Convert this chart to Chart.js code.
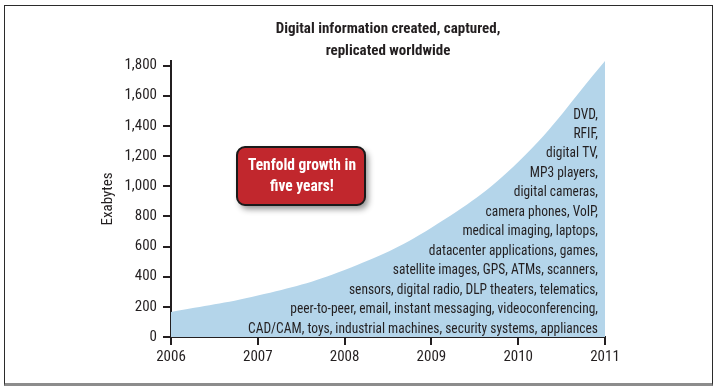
<!DOCTYPE html>
<html>
<head>
<meta charset="utf-8">
<script src="https://cdn.jsdelivr.net/npm/chart.js@4.4.0/dist/chart.umd.min.js"></script>
<style>
  body { margin: 0; background: #fff; }
  #frame { position: absolute; left: 4px; top: 5px; width: 707px; height: 377px;
           border: 1.5px solid #2b2b2b; border-bottom: 3px solid #8c8c8c; }
  #mycanvas { position: absolute; left: 0; top: 0; }
</style>
</head>
<body>
<div id="frame"></div>
<canvas id="mycanvas" width="718" height="391"></canvas>
<script>
var years = ['2006', '2007', '2008', '2009', '2010', '2011'];
var exabytes = [166, 275, 445, 725, 1160, 1830];
var yTicks = [0, 200, 400, 600, 800, 1000, 1200, 1400, 1600, 1800];
var titleLines = ['Digital information created, captured,', 'replicated worldwide'];
var calloutLines = ['Tenfold growth in', 'five years!'];
var sources = [
  'DVD,',
  'RFIF,',
  'digital TV,',
  'MP3 players,',
  'digital cameras,',
  'camera phones, VoIP,',
  'medical imaging, laptops,',
  'datacenter applications, games,',
  'satellite images, GPS, ATMs, scanners,',
  'sensors, digital radio, DLP theaters, telematics,',
  'peer-to-peer, email, instant messaging, videoconferencing,',
  'CAD/CAM, toys, industrial machines, security systems, appliances'
];

var FONT = "'Liberation Sans Narrow', 'Noto Sans ExtraCondensed', 'Noto Sans Condensed', 'Roboto Condensed', 'DejaVu Sans Condensed', sans-serif";
var INK = '#231f20';

// draws lines squeezed horizontally so the widest one is `width` px
function squeezed(ctx, lines, width, x, y0, step, align) {
  var widest = 0;
  lines.forEach(function(t) { widest = Math.max(widest, ctx.measureText(t).width); });
  var sx = Math.min(1, width / widest);
  ctx.save();
  ctx.translate(x, 0);
  ctx.scale(sx, 1);
  ctx.textAlign = align;
  for (var i = 0; i < lines.length; i++) {
    ctx.fillText(lines[i], 0, y0 + i * step);
  }
  ctx.restore();
}

// title, red callout and the list of sources drawn on top of the area
var notes = {
  id: 'notes',
  afterDatasetsDraw: function(chart) {
    var ctx = chart.ctx;
    var a = chart.chartArea;
    ctx.save();
    ctx.textBaseline = 'middle';

    ctx.fillStyle = INK;
    ctx.font = 'bold 15px ' + FONT;
    squeezed(ctx, titleLines, 235, (a.left + a.right) / 2, a.top - 32, 22, 'center');

    // callout box
    var bx = a.left + 66, by = a.top + 86, bw = 128, bh = 58;
    ctx.save();
    ctx.shadowColor = 'rgba(0,0,0,0.45)';
    ctx.shadowBlur = 6;
    ctx.shadowOffsetX = 3;
    ctx.shadowOffsetY = 4;
    ctx.beginPath();
    ctx.roundRect(bx, by, bw, bh, 8);
    ctx.fillStyle = '#c1272d';
    ctx.fill();
    ctx.restore();
    ctx.lineWidth = 2;
    ctx.strokeStyle = '#1a1a1a';
    ctx.beginPath();
    ctx.roundRect(bx, by, bw, bh, 8);
    ctx.stroke();
    ctx.fillStyle = '#fff';
    ctx.font = 'bold 16px ' + FONT;
    squeezed(ctx, calloutLines, 108, bx + bw / 2 + 1, by + 19, 21, 'center');

    // sources list, right aligned
    ctx.fillStyle = INK;
    ctx.font = '14px ' + FONT;
    var step = 19.45;
    squeezed(ctx, sources, 350, a.right - 7, a.bottom - 8 - (sources.length - 1) * step, step, 'right');
    ctx.restore();
  }
};

var chartdata = {
  labels: years,
  datasets: [
    {
      label: 'Exabytes',
      data: exabytes,
      backgroundColor: '#b4d5ea',
      borderWidth: 0,
      pointRadius: 0,
      fill: 'origin',
      tension: 0.4
    }
  ]
};

var ctx = document.getElementById('mycanvas');

var areaChart = new Chart(ctx, {
  type: 'line',
  data: chartdata,
  plugins: [notes],
  options: {
    responsive: false,
    animation: false,
    layout: { padding: { top: 61, right: 113, left: 0, bottom: 0 } },
    plugins: {
      legend: { display: false },
      title: { display: false },
      tooltip: { enabled: false }
    },
    scales: {
      x: {
        offset: false,
        grid: { display: true, drawOnChartArea: false, tickLength: 8, color: INK, lineWidth: 2 },
        border: { color: INK, width: 2 },
        ticks: { color: INK, padding: 3, maxRotation: 0, font: { family: FONT, size: 15 } },
        afterFit: function(scale) { scale.height = 54; }
      },
      y: {
        min: 0,
        max: 1830,
        afterBuildTicks: function(scale) {
          scale.ticks = yTicks.map(function(v) { return { value: v }; });
        },
        grid: { display: true, drawOnChartArea: false, tickLength: 8, color: INK, lineWidth: 2 },
        border: { color: INK, width: 2 },
        ticks: { color: INK, padding: 6, font: { family: FONT, size: 15 } },
        title: {
          display: true,
          text: 'Exabytes',
          color: INK,
          font: { family: FONT, size: 15 },
          padding: { top: 99, bottom: 0 }
        },
        afterFit: function(scale) { scale.width = 171; }
      }
    }
  }
});
</script>
</body>
</html>
